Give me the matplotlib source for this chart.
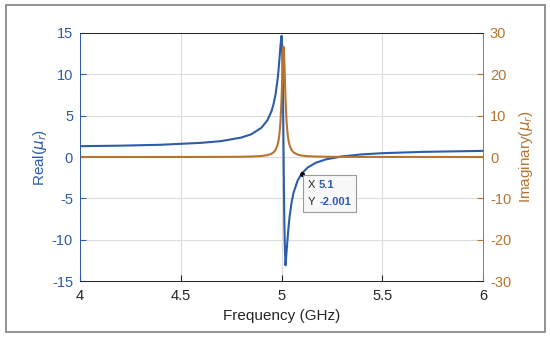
import matplotlib
matplotlib.use('Agg')
import matplotlib.pyplot as plt
from matplotlib.patches import Rectangle
from matplotlib.offsetbox import TextArea, HPacker, VPacker, AnnotationBbox

plt.rcParams['font.family'] = ['Liberation Sans', 'DejaVu Sans']
plt.rcParams['mathtext.fontset'] = 'dejavusans'
plt.rcParams['axes.unicode_minus'] = False

# frequency samples (GHz)
freq = [4.0, 4.2, 4.4, 4.6, 4.7, 4.8, 4.85, 4.9, 4.93, 4.95, 4.96, 4.97, 4.98,
        4.985, 4.99, 4.995, 5.0, 5.003, 5.006, 5.008, 5.01, 5.012, 5.014, 5.017,
        5.02, 5.025, 5.03, 5.035, 5.04, 5.05, 5.06, 5.08, 5.1, 5.13, 5.17, 5.22,
        5.3, 5.4, 5.5, 5.7, 6.0]
# real part of mu_r
mu_real = [1.31, 1.37, 1.48, 1.71, 1.92, 2.35, 2.75, 3.53, 4.44, 5.52, 6.35, 7.53, 9.29,
           10.49, 11.95, 13.52, 14.65, 13.38, 9.95, 5.95, 1.0, -3.94, -7.93, -11.34,
           -13.1, -11.46, -9.89, -8.43, -7.23, -5.47, -4.29, -2.85, -2.001, -1.27, -0.70, -0.29,
           0.07, 0.32, 0.46, 0.62, 0.74]
# imaginary part of mu_r
mu_imag = [0.0, 0.004, 0.008, 0.017, 0.03, 0.065, 0.112, 0.236, 0.443, 0.778, 1.107, 1.69, 2.864,
           3.938, 5.683, 8.669, 13.876, 18.377, 23.256, 25.736, 26.68, 25.716, 23.222, 18.341,
           13.847, 8.652, 5.673, 3.933, 2.86, 1.688, 1.106, 0.576, 0.351, 0.199, 0.112, 0.065,
           0.034, 0.019, 0.012, 0.006, 0.003]

tip_x = 5.1
tip_y = -2.001

blue = '#2d5cab'
orange = '#b57430'
dark = '#262626'

fig = plt.figure(figsize=(5.5, 3.38), dpi=100)
fig.patches.append(Rectangle((0.011, 0.018), 0.979, 0.967, transform=fig.transFigure,
                             fill=False, edgecolor='#808080', linewidth=1.2))

ax1 = fig.add_axes([0.1455, 0.1686, 0.7327, 0.7338])
ax2 = ax1.twinx()

ax1.plot(freq, mu_real, color=blue, linewidth=1.5)
ax2.plot(freq, mu_imag, color=orange, linewidth=1.5)

ax1.set_xlim(4, 6)
ax1.set_ylim(-15, 15)
ax2.set_ylim(-30, 30)
ax1.set_xticks([4, 4.5, 5, 5.5, 6])
ax1.set_xticklabels(['4', '4.5', '5', '5.5', '6'])
ax1.set_yticks(range(-15, 16, 5))
ax2.set_yticks(range(-30, 31, 10))

ax1.grid(True, color='#dcdcdc', linewidth=0.8)
ax1.set_axisbelow(True)

for ax in (ax1, ax2):
    for s in ax.spines.values():
        s.set_linewidth(0.7)
    ax.spines['top'].set_color(dark)
    ax.spines['bottom'].set_color(dark)
    ax.spines['left'].set_color(blue)
    ax.spines['right'].set_color(orange)

ax1.tick_params(axis='x', direction='in', length=4, colors=dark, labelsize=10.5, pad=6)
ax1.tick_params(axis='y', direction='in', length=4, colors=blue, labelsize=10.5, pad=5)
ax2.tick_params(axis='y', direction='in', length=4, colors=orange, labelsize=10.5, pad=5)

ax1.set_xlabel('Frequency (GHz)', fontsize=11, color=dark, labelpad=4)
ax1.set_ylabel(r'Real($\mu_r$)', fontsize=11, color=blue, labelpad=2)
ax2.set_ylabel(r'Imaginary($\mu_r$)', fontsize=11, color=orange, labelpad=4)

# data tip
ax1.plot([tip_x], [tip_y], 'o', color='black', markersize=2.5, zorder=5)
row_x = HPacker(children=[TextArea('X', textprops=dict(color=dark, fontsize=8)),
                          TextArea('%g' % tip_x, textprops=dict(color=blue, fontsize=8, fontweight='bold'))],
                align='baseline', pad=0, sep=3)
row_y = HPacker(children=[TextArea('Y', textprops=dict(color=dark, fontsize=8)),
                          TextArea('%.3f' % tip_y, textprops=dict(color=blue, fontsize=8, fontweight='bold'))],
                align='baseline', pad=0, sep=3)
tip_box = VPacker(children=[row_x, row_y], align='left', pad=0, sep=5)
ab = AnnotationBbox(tip_box, (tip_x, tip_y), xybox=(4.2, -10.4), xycoords='data',
                    boxcoords='offset points', box_alignment=(0, 1), pad=0.5,
                    bboxprops=dict(boxstyle='square,pad=0.35', facecolor='#f8f8f8', edgecolor='#9a9a9a',
                                   linewidth=0.8))
ax2.add_artist(ab)

fig.savefig('out.png', dpi=100)
